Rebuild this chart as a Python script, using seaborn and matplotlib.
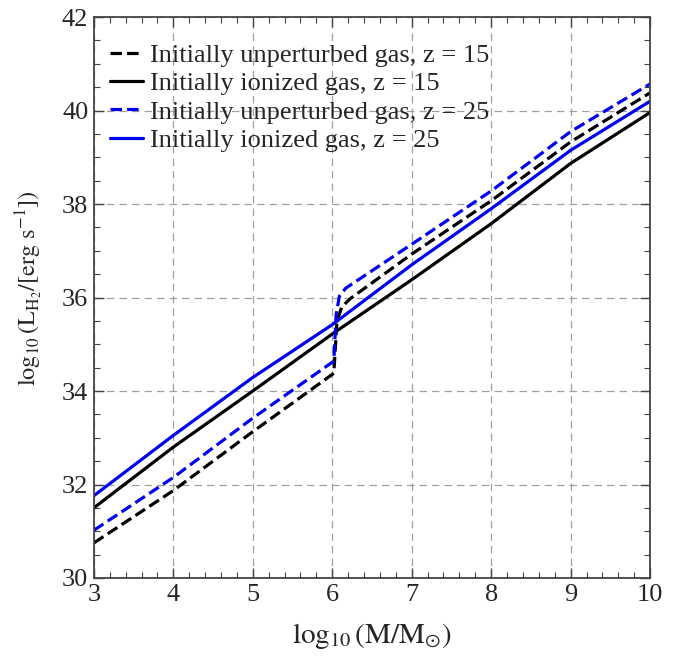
import pandas as pd
import matplotlib
matplotlib.use("Agg")
import matplotlib.pyplot as plt
import seaborn as sns
from matplotlib.ticker import MultipleLocator

# data
mass_solid = [3, 4, 5, 6, 7, 8, 9, 10]
ion_z15 = [31.50, 32.80, 34.00, 35.22, 36.38, 37.58, 38.87, 39.96]
ion_z25 = [31.76, 33.05, 34.29, 35.42, 36.70, 37.90, 39.15, 40.20]

mass_unp_z15 = [3, 4, 5, 6.02, 6.06, 6.12, 6.23, 7, 8, 9, 10]
unp_z15 = [30.75, 31.87, 33.13, 34.38, 35.50, 35.80, 35.98, 36.93, 38.07, 39.33, 40.38]
mass_unp_z25 = [3, 4, 5, 6.02, 6.05, 6.09, 6.17, 7, 8, 9, 10]
unp_z25 = [31.02, 32.15, 33.42, 34.64, 35.64, 36.03, 36.20, 37.14, 38.28, 39.55, 40.57]

labels = ["Initially unperturbed gas, z = 15", "Initially ionized gas, z = 15",
          "Initially unperturbed gas, z = 25", "Initially ionized gas, z = 25"]

sns.set_style("ticks")
plt.rcParams["font.family"] = ["Liberation Serif", "DejaVu Serif"]
plt.rcParams["mathtext.fontset"] = "stix"

fig, ax = plt.subplots(figsize=(6.8, 6.58), dpi=100)
fig.subplots_adjust(left=0.138, right=0.956, top=0.974, bottom=0.1216)

series = [
    (mass_unp_z15, unp_z15, "black", (3.6, 1.6)),
    (mass_solid, ion_z15, "black", None),
    (mass_unp_z25, unp_z25, "#0000ee", (3.6, 1.6)),
    (mass_solid, ion_z25, "#0000ee", None),
]
for (x, y, c, dash), lab in zip(series, labels):
    df = pd.DataFrame({"logM": x, "logL": y})
    sns.lineplot(data=df, x="logM", y="logL", ax=ax, color=c, lw=2.3,
                 estimator=None, sort=False, label=lab)
    if dash is not None:
        ax.lines[-1].set_dashes(dash)

ax.set_xlim(3, 10)
ax.set_ylim(30, 42)
ax.xaxis.set_major_locator(MultipleLocator(1))
ax.xaxis.set_minor_locator(MultipleLocator(0.2))
ax.yaxis.set_major_locator(MultipleLocator(2))
ax.yaxis.set_minor_locator(MultipleLocator(0.5))
ax.tick_params(which="both", direction="in", top=True, right=True, color="#444444")
ax.tick_params(which="major", length=7, width=1.0, labelsize=19, pad=4)
ax.tick_params(which="minor", length=4, width=0.8)
ax.grid(True, which="major", color="#a0a0a0", linestyle=(0, (6, 4)), lw=0.9)
for s in ax.spines.values():
    s.set_color("#444444")
    s.set_linewidth(1.3)

ax.set_xlabel(r"$\log_{10}(\mathrm{M/M_{\odot}})$", fontsize=21, labelpad=11)
ax.set_ylabel(r"$\log_{10}(\mathrm{L_{H_2}}/[\mathrm{erg\ s^{-1}}])$", fontsize=17.5)
ax.yaxis.set_label_coords(-0.088, 0.517)

ax.legend(loc="upper left", bbox_to_anchor=(-0.013, 0.995), frameon=False, fontsize=19,
          handlelength=1.25, handletextpad=0.25, labelspacing=0.18, borderpad=0.4)

fig.savefig("out.png", dpi=100)
